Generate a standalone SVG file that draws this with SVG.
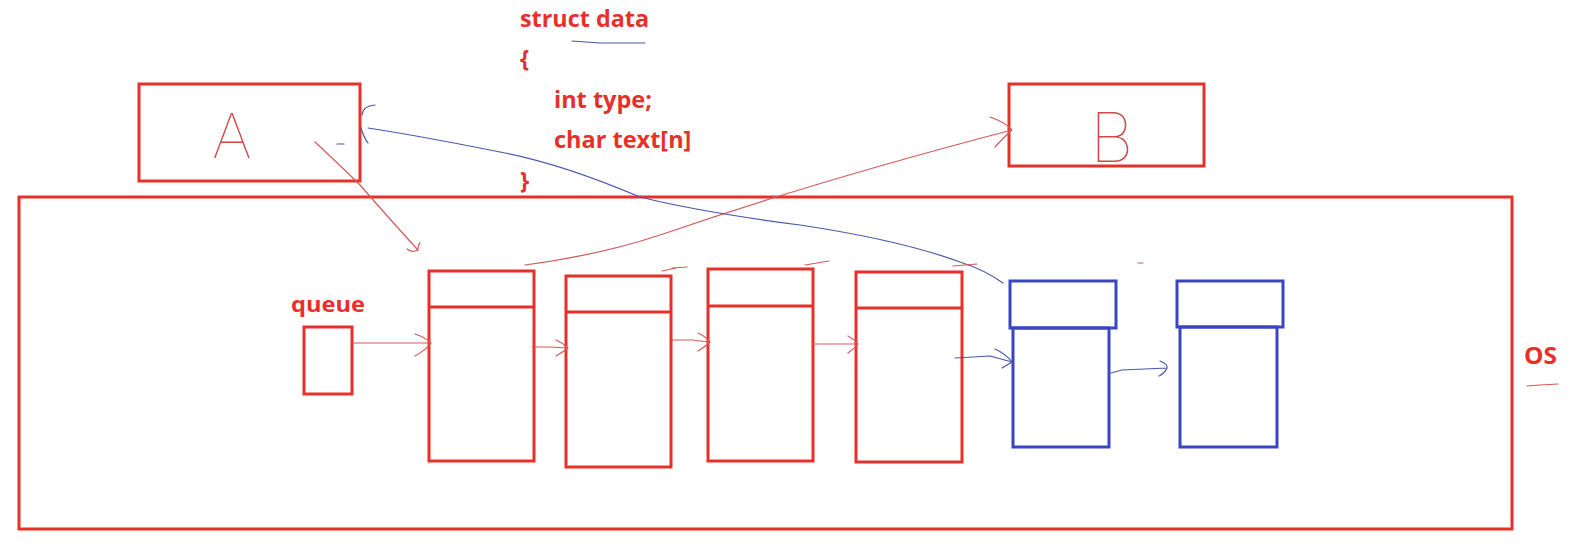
<svg xmlns="http://www.w3.org/2000/svg" width="1576" height="542" viewBox="0 0 1576 542">
<style>
.rb{fill:none;stroke:#e8302a;stroke-width:3}
.bb{fill:none;stroke:#3a45c0;stroke-width:3}
.rl{fill:none;stroke:#d25a5a;stroke-width:1.2;stroke-linecap:round;stroke-linejoin:round}
.bl{fill:none;stroke:#4a57a8;stroke-width:1.2;stroke-linecap:round;stroke-linejoin:round}
.t{font-family:"Open Sans","Liberation Sans",sans-serif;font-weight:bold;fill:#e8302a}
.h{font-family:"Inter","DejaVu Sans",sans-serif;font-weight:100;fill:#d04848}
</style>
<rect width="1576" height="542" fill="#fff"/>
<g id="os"><rect class="rb" x="19" y="197" width="1493" height="332"/><text class="t" x="1524" y="364" font-size="23" textLength="33" lengthAdjust="spacingAndGlyphs">OS</text><path class="rl" d="M1527 386 L1540 385 L1558 384"/></g>
<g id="struct">
<text class="t" font-size="23.5"><tspan x="520" y="27" textLength="129" lengthAdjust="spacingAndGlyphs">struct data</tspan><tspan x="520" y="67">{</tspan><tspan x="554" y="108">int type;</tspan><tspan x="554" y="148">char text[n]</tspan><tspan x="520" y="189">}</tspan></text>
<path class="bl" d="M572 41 L600 43 L645 43"/>
</g>
<g id="A"><rect class="rb" x="139" y="84" width="221" height="97"/><text class="h" x="212" y="158" font-size="62">A</text></g>
<g id="B"><rect class="rb" x="1009" y="84" width="195" height="82"/><text class="h" x="1090" y="162" font-size="68">B</text></g>
<g id="queue"><text class="t" x="291" y="312" font-size="22" textLength="74" lengthAdjust="spacingAndGlyphs">queue</text><rect class="rb" x="304" y="327" width="48" height="67"/></g>
<g id="m1"><rect class="rb" x="429" y="271" width="105" height="190"/><line class="rb" x1="429" y1="307" x2="534" y2="307"/></g>
<g id="m2"><rect class="rb" x="566" y="276" width="105" height="191"/><line class="rb" x1="566" y1="312" x2="671" y2="312"/></g>
<g id="m3"><rect class="rb" x="708" y="269" width="105" height="192"/><line class="rb" x1="708" y1="306" x2="813" y2="306"/></g>
<g id="m4"><rect class="rb" x="856" y="272" width="106" height="190"/><line class="rb" x1="856" y1="308" x2="962" y2="308"/></g>
<g id="m5"><rect class="bb" x="1010" y="281" width="106" height="47"/><rect class="bb" x="1013" y="328" width="96" height="119"/></g>
<g id="m6"><rect class="bb" x="1177" y="281" width="106" height="46"/><rect class="bb" x="1180" y="327" width="97" height="120"/></g>
<g id="connectors">
<path class="rl" d="M352 343 L430 343 M415 334 Q425 337 431 343 Q426 350 415 356"/>
<path class="rl" d="M532 347 L550 347 L567 348 M556 340 Q563 343 568 348 Q563 352 556 356"/>
<path class="rl" d="M672 340 L692 340 L709 342 M698 333 Q705 336 710 342 Q705 347 698 351"/>
<path class="rl" d="M812 344 L858 344 M848 336 Q854 339 858 344 Q854 349 848 353"/>
<path class="bl" d="M955 358 L990 356 L1012 362 M995 349 Q1006 354 1012 362 L1002 368"/>
<path class="bl" d="M1111 373 L1122 370 L1167 368 M1160 361 Q1168 364 1167 368 Q1165 373 1159 376"/>
<path class="rl" d="M315 142 Q345 170 360 185 Q395 225 418 250 M418 250 Q418 245 420 243 M418 250 Q412 253 407 249"/>
<path class="rl" d="M525 265 Q600 255 660 235 Q820 180 1012 130 M990 117 Q1005 122 1012 130 Q1003 138 995 147"/>
<path class="bl" d="M368 128 Q420 136 500 152 Q560 163 640 197 Q700 212 800 225 Q900 240 960 262 Q985 270 1003 283"/>
<path class="bl" d="M375 105 Q363 106 362 115 M361 128 Q364 138 368 143 M337 144 L344 144"/>
<path class="rl" d="M662 271 L676 268 M672 268 L687 267 M805 265 L829 261 M953 266 L977 264 M1138 263 L1143 263"/>
</g>
</svg>
